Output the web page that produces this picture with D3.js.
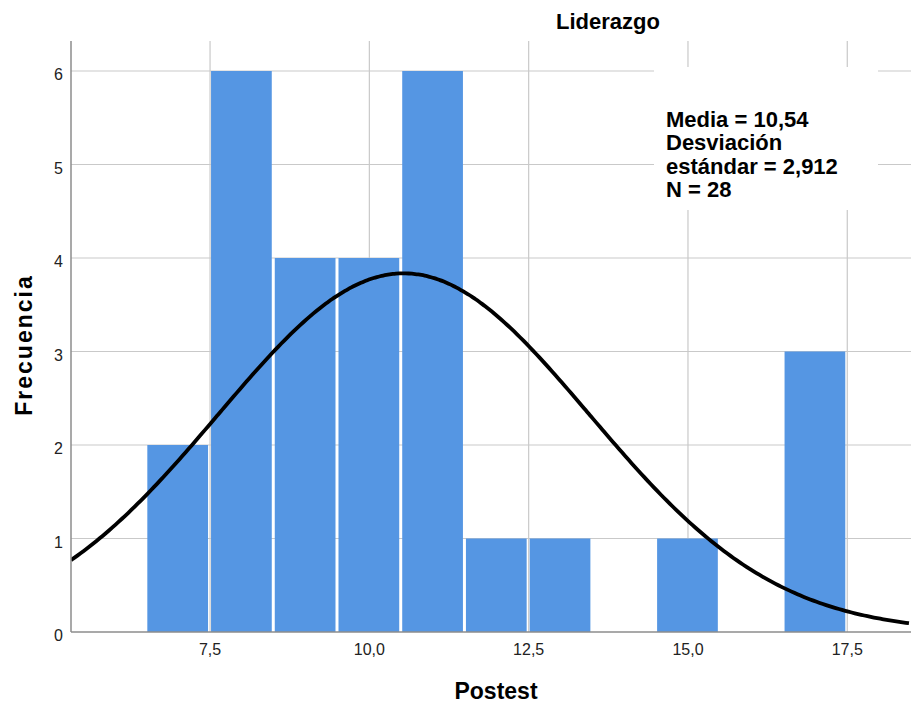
<!DOCTYPE html>
<html lang="es">
<head>
    <meta charset="UTF-8">
    <title>Liderazgo - histograma Postest</title>
    <style>
        body { margin: 0; background: #fff; }
        svg { display: block; font-family: "Liberation Sans", Arial, sans-serif; }
    </style>
</head>
<body>
    <script src="https://d3js.org/d3.v7.min.js"></script>
    <script>
        // histogram data (bin width 1, bins centred on integers)
        const binCenters = [7, 8, 9, 10, 11, 12, 13, 14, 15, 16, 17];
        const frequencies = [2, 6, 4, 4, 6, 1, 1, 0, 1, 0, 3];
        const xTickValues = [7.5, 10, 12.5, 15, 17.5];
        const yTickValues = [0, 1, 2, 3, 4, 5, 6];
        const media = 10.54, desviacion = 2.912, n = 28;
        const statLines = ["Media = 10,54", "Desviación", "estándar = 2,912", "N = 28"];

        const width = 911, height = 704;
        const plotLeft = 71, plotRight = 911, plotTop = 41, plotBottom = 632;

        const svg = d3.select("body").append("svg")
            .attr("width", width)
            .attr("height", height);

        const x = d3.scaleLinear().domain([5.318, 18.5]).range([plotLeft, plotRight]);
        const y = d3.scaleLinear().domain([0, 6]).range([plotBottom, 71]);

        const es = d3.formatLocale({ decimal: ",", thousands: ".", grouping: [3], currency: ["", "€"] });
        const fmt = es.format(".1f");

        // grid
        svg.append("g").selectAll("line").data(yTickValues.slice(1)).enter().append("line")
            .attr("x1", plotLeft).attr("x2", plotRight)
            .attr("y1", d => y(d)).attr("y2", d => y(d))
            .attr("stroke", "#c9c9c9").attr("stroke-width", 1.2);
        svg.append("g").selectAll("line").data(xTickValues).enter().append("line")
            .attr("x1", d => x(d)).attr("x2", d => x(d))
            .attr("y1", plotTop).attr("y2", plotBottom)
            .attr("stroke", "#c9c9c9").attr("stroke-width", 1.2);

        // bars
        const bins = binCenters.map((c, i) => ({ lo: c - 0.5, hi: c + 0.5, f: frequencies[i] }));
        svg.append("g").selectAll("rect").data(bins.filter(d => d.f > 0)).enter().append("rect")
            .attr("x", d => x(d.lo) + 1)
            .attr("width", d => x(d.hi) - x(d.lo) - 3)
            .attr("y", d => y(d.f))
            .attr("height", d => y(0) - y(d.f))
            .attr("fill", "#5596e3");

        // normal curve
        const pdf = v => n * Math.exp(-0.5 * Math.pow((v - media) / desviacion, 2)) / (desviacion * Math.sqrt(2 * Math.PI));
        const pts = d3.range(x.domain()[0], x.domain()[1] + 0.01, 0.05).map(v => [v, pdf(v)]);
        svg.append("clipPath").attr("id", "plot")
            .append("rect").attr("x", plotLeft).attr("y", plotTop)
            .attr("width", plotRight - plotLeft).attr("height", plotBottom - plotTop);
        svg.append("path")
            .datum(pts)
            .attr("clip-path", "url(#plot)")
            .attr("fill", "none")
            .attr("stroke", "#000")
            .attr("stroke-width", 3.8)
            .attr("d", d3.line().x(d => x(d[0])).y(d => y(d[1])).curve(d3.curveBasis));

        // axes lines
        svg.append("line").attr("x1", plotLeft).attr("x2", plotLeft).attr("y1", plotTop).attr("y2", plotBottom)
            .attr("stroke", "#8c8c8c").attr("stroke-width", 1.5);
        svg.append("line").attr("x1", plotLeft).attr("x2", plotRight).attr("y1", plotBottom).attr("y2", plotBottom)
            .attr("stroke", "#8c8c8c").attr("stroke-width", 1.5);

        // tick labels
        svg.append("g").selectAll("text").data(yTickValues).enter().append("text")
            .attr("x", 63).attr("y", d => y(d) + 9)
            .attr("text-anchor", "end")
            .attr("font-size", 16).attr("fill", "#222")
            .text(d => d);
        svg.append("g").selectAll("text").data(xTickValues).enter().append("text")
            .attr("x", d => x(d)).attr("y", 655)
            .attr("text-anchor", "middle")
            .attr("font-size", 16).attr("fill", "#222")
            .text(d => fmt(d));

        // stats box
        svg.append("rect").attr("x", 654).attr("y", 67).attr("width", 224).attr("height", 143).attr("fill", "#fff");
        svg.append("g").selectAll("text").data(statLines).enter().append("text")
            .attr("x", 666).attr("y", (d, i) => 127 + i * 23.4)
            .attr("font-size", 22).attr("font-weight", "bold").attr("fill", "#000")
            .text(d => d);

        // titles
        svg.append("text").attr("x", 608).attr("y", 29)
            .attr("text-anchor", "middle").attr("font-size", 22).attr("font-weight", "bold")
            .text("Liderazgo");
        svg.append("text").attr("x", 496).attr("y", 699)
            .attr("text-anchor", "middle").attr("font-size", 23).attr("font-weight", "bold")
            .text("Postest");
        svg.append("text")
            .attr("transform", "translate(32,345) rotate(-90)")
            .attr("text-anchor", "middle").attr("font-size", 23).attr("font-weight", "bold")
            .attr("letter-spacing", 2)
            .text("Frecuencia");
    </script>
</body>
</html>
